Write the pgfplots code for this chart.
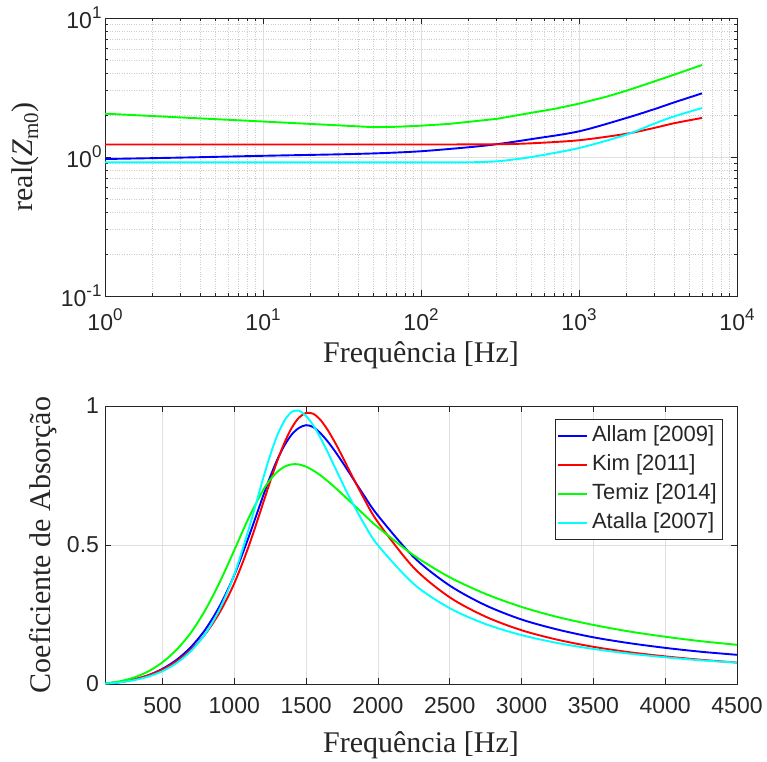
\documentclass[border=0pt]{standalone}
\usepackage{fontspec}
\setmainfont{Liberation Serif}
\setsansfont{Liberation Sans}
\usepackage{pgfplots}
\pgfplotsset{compat=1.18}
\definecolor{axgray}{HTML}{262626}
\definecolor{gridgray}{HTML}{DFDFDF}
\definecolor{minorgray}{HTML}{CDCDCD}
\definecolor{cblue}{rgb}{0,0,1}
\definecolor{cred}{rgb}{1,0,0}
\definecolor{cgreen}{rgb}{0,1,0}
\definecolor{ccyan}{rgb}{0,1,1}
\newcommand{\tp}[1]{10\raisebox{10pt}{\fontsize{17}{17}\selectfont #1}}
\pgfplotsset{
  mystyle/.style={
    scale only axis, width=632pt, height=278pt,
    axis line style={axgray, line width=0.8pt},
    every tick/.style={axgray, line width=0.7pt},
    tick align=inside,
    major tick length=6pt, minor tick length=3.5pt,
    tick label style={font=\sffamily\fontsize{23}{23}\selectfont, text=axgray},
    /pgf/number format/assume math mode=true,
    /pgf/number format/1000 sep={},
    scaled ticks=false,
    label style={font=\fontsize{30}{30}\selectfont, text=axgray},
    major grid style={gridgray, line width=0.6pt},
    minor grid style={minorgray, dotted, line width=0.6pt},
    every axis plot/.append style={line width=1.9pt},
  }
}
\begin{document}
\begin{tikzpicture}[x=1pt,y=1pt]
\path[use as bounding box] (0,0) rectangle (767,761);
% Top axis
\begin{axis}[mystyle, at={(105pt,465pt)}, anchor=south west,
  xmode=log, ymode=log,
  xmin=1, xmax=10000, ymin=0.1, ymax=10,
  xtick={1,10,100,1000,10000},
  xticklabels={\tp{0},\tp{1},\tp{2},\tp{3},\tp{4}},
  ytick={0.1,1,10},
  yticklabels={\tp{-1},\tp{0},\tp{1}},
  grid=both,
  xticklabel style={yshift=-9pt},
  yticklabel style={xshift=0pt},
  xlabel={Frequência [Hz]},
  ylabel={real(\textit{Z}\raisebox{-6pt}{\fontsize{21}{21}\selectfont m0})},
  xlabel style={at={(axis description cs:0.5,-0.2122)}, anchor=center},
  ylabel style={at={(axis description cs:-0.1266,0.5)}, anchor=center},
]
\addplot[cblue, smooth] coordinates {(1,0.967) (3,0.99) (10,1.02) (30,1.045) (55,1.065) (100,1.10) (200,1.175) (300,1.235) (500,1.345) (1000,1.53) (2000,1.91) (3000,2.21) (4000,2.47) (6000,2.87)};
\addplot[cred, smooth] coordinates {(1,1.23) (10,1.23) (100,1.23) (300,1.235) (500,1.255) (1000,1.32) (2000,1.47) (3000,1.62) (4000,1.75) (6000,1.91)};
\addplot[cgreen] coordinates {(1,2.05) (10,1.80) (50,1.64) (70,1.65) (100,1.68) (150,1.73) (200,1.79) (300,1.88) (500,2.08) (700,2.22) (1000,2.42) (1500,2.72) (2000,3.0) (3000,3.5) (4000,3.91) (6000,4.59)};
\addplot[ccyan, smooth] coordinates {(1,0.914) (10,0.914) (100,0.914) (200,0.916) (300,0.93) (400,0.965) (500,1.0) (1000,1.16) (2000,1.45) (3000,1.74) (4000,1.96) (6000,2.25)};
\end{axis}
% Bottom axis
\begin{axis}[mystyle, at={(105pt,77pt)}, anchor=south west,
  xmin=100, xmax=4500, ymin=0, ymax=1,
  xtick={500,1000,1500,2000,2500,3000,3500,4000,4500},
  ytick={0,0.5,1},
  xmajorgrids, ymajorgrids,
  xticklabel style={yshift=-10pt},
  yticklabel style={xshift=-2.5pt},
  xlabel={Frequência [Hz]},
  ylabel={Coeficiente de Absorção},
  xlabel style={at={(axis description cs:0.5,-0.2194)}, anchor=center},
  ylabel style={at={(axis description cs:-0.0981,0.5)}, anchor=center},
  legend style={at={(axis description cs:0.978,0.953)}, anchor=north east,
    draw=axgray, line width=0.7pt, fill=white,
    font=\sffamily\fontsize{22}{22}\selectfont, text=axgray,
    row sep=0pt, inner sep=2pt,
    nodes={inner sep=4pt, text height=16pt, text depth=5pt}},
  legend cell align=left,
  legend image code/.code={\draw[#1] (0pt,0pt) -- (29pt,0pt);},
]
\addplot[cblue, smooth] coordinates {(100,0.0015) (200,0.0066) (300,0.0161) (400,0.0314) (500,0.0545) (600,0.0876) (700,0.1339) (800,0.1972) (900,0.2821) (1000,0.3918) (1100,0.5283) (1200,0.6754) (1250,0.7453) (1300,0.8077) (1350,0.859) (1400,0.8975) (1450,0.921) (1500,0.931) (1550,0.924) (1600,0.902) (1650,0.8727) (1700,0.838) (1750,0.8001) (1800,0.7604) (1900,0.6806) (2000,0.606) (2250,0.456) (2500,0.354) (2750,0.283) (3000,0.232) (3250,0.196) (3500,0.168) (3750,0.147) (4000,0.130) (4250,0.116) (4500,0.105)};
\addlegendentry{Allam [2009]}
\addplot[cred, smooth] coordinates {(100,0.0017) (200,0.007) (300,0.0164) (400,0.0309) (500,0.0521) (600,0.0821) (700,0.1239) (800,0.1811) (900,0.2589) (1000,0.3621) (1100,0.4949) (1200,0.6494) (1250,0.7285) (1300,0.8032) (1350,0.8688) (1400,0.9215) (1450,0.958) (1500,0.975) (1550,0.972) (1600,0.950) (1650,0.914) (1700,0.870) (1750,0.821) (1800,0.769) (1900,0.670) (2000,0.582) (2250,0.418) (2500,0.3118) (2750,0.2422) (3000,0.1934) (3250,0.1593) (3500,0.1338) (3750,0.1144) (4000,0.0994) (4250,0.0872) (4500,0.0771)};
\addlegendentry{Kim [2011]}
\addplot[cgreen, smooth] coordinates {(100,0.0022) (200,0.0094) (300,0.023) (400,0.045) (500,0.0781) (600,0.1243) (700,0.1861) (800,0.2677) (900,0.3676) (1000,0.4813) (1100,0.5971) (1200,0.6965) (1250,0.7349) (1300,0.7634) (1350,0.7817) (1400,0.7903) (1450,0.7897) (1500,0.7816) (1550,0.768) (1600,0.7506) (1650,0.73) (1700,0.7076) (1750,0.6837) (1800,0.6595) (1900,0.611) (2000,0.564) (2250,0.4627) (2500,0.384) (2750,0.324) (3000,0.2773) (3250,0.241) (3500,0.2125) (3750,0.189) (4000,0.17) (4250,0.154) (4500,0.141)};
\addlegendentry{Temiz [2014]}
\addplot[ccyan, smooth] coordinates {(100,0.0014) (200,0.0057) (300,0.0135) (400,0.0264) (500,0.0461) (600,0.076) (700,0.1195) (800,0.182) (900,0.271) (1000,0.3938) (1100,0.5559) (1200,0.7377) (1250,0.823) (1300,0.8952) (1350,0.9478) (1400,0.979) (1450,0.983) (1500,0.9637) (1550,0.9304) (1600,0.8855) (1650,0.8341) (1700,0.78) (1750,0.726) (1800,0.6739) (1900,0.5792) (2000,0.4991) (2250,0.3595) (2500,0.2727) (2750,0.2155) (3000,0.1759) (3250,0.1475) (3500,0.1261) (3750,0.1094) (4000,0.0961) (4250,0.0852) (4500,0.077)};
\addlegendentry{Atalla [2007]}
\end{axis}
\end{tikzpicture}
\end{document}
